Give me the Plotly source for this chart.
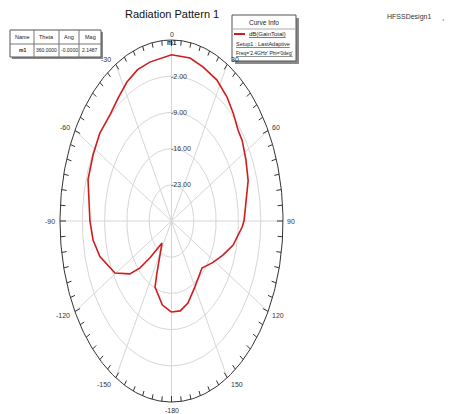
import numpy as np
import plotly.graph_objects as go

# Far-field gain cut, Phi = 0deg, 2.4 GHz (theta in degrees, gain in dB)
theta_deg = [-180, -170, -158, -155.5, -145, -136.5, -132.5, -128, -119.5, -107, -98.5,
             -90, -73, -62.5, -53, -43, -35, -27.5, -20, -12.5, 0, 10.5, 18.5, 27.5,
             36, 43, 50, 55, 63, 72, 85, 90, 93, 103.5, 112, 121.5, 133.5, 150, 162,
             171, 180]
gain_db = [-12.4, -13.5, -16.2, -19.0, -24.8, -20.2, -16.6, -13.4, -9.6, -6.5, -5.1,
           -4.4, -2.6, -2.25, -1.8, -1.8, -0.9, 0.3, 1.14, 1.47, 2.1487, 2.06, 1.39, 0.77,
           -0.36, -1.55, -2.7, -2.9, -3.8, -4.7, -6.8, -7.25, -7.8, -10.1, -12.5, -14.7,
           -16.8, -15.3, -13.3, -12.4, -12.4]

# Radial axis: -30 dB at centre, +5 dB on the rim
r_min, r_max = -30.0, 5.0
ring_values = [-23.0, -16.0, -9.0, -2.0]
ring_labels = ["-23.00", "-16.00", "-9.00", "-2.00"]

# Angular axis labels
ang_ticks = [0, 30, 60, 90, 120, 150, 180, -150, -120, -90, -60, -30]
ang_labels = ["0", "30", "60", "90", "120", "150", "-180", "-150", "-120", "-90", "-60", "-30"]

# Marker table
marker_cols = ["Name", "Theta", "Ang", "Mag"]
marker_row = ["m1", "360.0000", "-0.0000", "2.1487"]
marker_theta, marker_mag = 0.0, 2.1487

W, H = 462, 414
FONT = "Liberation Sans Narrow, Arial Narrow, Liberation Sans, Arial"
span = r_max - r_min

# pixel geometry of the (stretched) polar frame
cx_px, cy_px, rx_px, ry_px = 171.5, 221.0, 111.5, 181.0
x_range = [-cx_px / rx_px * span, (W - cx_px) / rx_px * span]
y_range = [-(H - cy_px) / ry_px * span, cy_px / ry_px * span]


def to_xy(th_deg, val):
    th = np.radians(np.asarray(th_deg, dtype=float))
    rr = np.asarray(val, dtype=float) - r_min
    return rr * np.sin(th), rr * np.cos(th)


def px(x):
    return x / W


def py(y):
    return 1 - y / H


fig = go.Figure()

# concentric rings
full = np.linspace(0, 360, 361)
for rv in ring_values:
    gx, gy = to_xy(full, np.full_like(full, rv))
    fig.add_trace(go.Scatter(x=gx, y=gy, mode="lines",
                             line=dict(color="#d6d6d6", width=1), hoverinfo="skip"))

# spokes every 30 degrees
sx, sy = [], []
for a in range(0, 360, 30):
    ex, ey = to_xy([a], [r_max])
    sx += [0, ex[0], None]
    sy += [0, ey[0], None]
fig.add_trace(go.Scatter(x=sx, y=sy, mode="lines",
                         line=dict(color="#d6d6d6", width=1), hoverinfo="skip"))

# rim
ox, oy = to_xy(full, np.full_like(full, r_max))
fig.add_trace(go.Scatter(x=ox, y=oy, mode="lines",
                         line=dict(color="#333333", width=1), hoverinfo="skip"))

# inward ticks every 5 degrees
tx, ty = [], []
kx, ky = span / rx_px, span / ry_px
for a in range(0, 360, 5):
    ex, ey = to_xy([a], [r_max])
    th = np.radians(a)
    L = 6.0 if a % 30 == 0 else 5.0
    tx += [ex[0], ex[0] - L * np.sin(th) * kx, None]
    ty += [ey[0], ey[0] - L * np.cos(th) * ky, None]
fig.add_trace(go.Scatter(x=tx, y=ty, mode="lines",
                         line=dict(color="#333333", width=1), hoverinfo="skip"))

# gain curve
cx_, cy_ = to_xy(theta_deg, gain_db)
fig.add_trace(go.Scatter(x=cx_, y=cy_, mode="lines",
                         line=dict(color="#d01c1c", width=1.6), hoverinfo="skip"))

annotations = []

# ring labels
for rv, lab in zip(ring_values, ring_labels):
    _, ly = to_xy([0], [rv])
    annotations.append(dict(x=0, y=ly[0], xref="x", yref="y", text=lab, showarrow=False,
                            xanchor="left", yanchor="middle", xshift=-3,
                            font=dict(family=FONT, size=7, color="#333333")))

# angular labels
for a, lab in zip(ang_ticks, ang_labels):
    ex, ey = to_xy([a], [r_max])
    s, c = np.sin(np.radians(a)), np.cos(np.radians(a))
    if abs(s) < 1e-6:
        xa, xs = "center", 0
    elif s > 0:
        xa, xs = "left", 2
    else:
        xa, xs = "right", -3
    ys = 6 * c if c > 0 else 8 * c
    annotations.append(dict(x=ex[0], y=ey[0], xref="x", yref="y", text=lab, showarrow=False,
                            xanchor=xa, yanchor="middle", xshift=xs, yshift=ys,
                            font=dict(family=FONT, size=7, color="#333333")))

# marker m1
mx, my = to_xy([marker_theta], [marker_mag])
annotations.append(dict(x=mx[0], y=my[0], xref="x", yref="y", text="<b>m1</b>",
                        showarrow=False, yshift=12, xanchor="center", yanchor="middle",
                        font=dict(family=FONT, size=6.5, color="#222222")))

shapes = []


def box(x0, y0, x1, y1, shadow=3):
    shapes.append(dict(type="rect", xref="paper", yref="paper",
                       x0=px(x0 + shadow), y0=py(y1 + shadow), x1=px(x1 + shadow), y1=py(y0 + shadow),
                       line=dict(width=0), fillcolor="#8a8a8a", layer="above"))
    shapes.append(dict(type="rect", xref="paper", yref="paper",
                       x0=px(x0), y0=py(y1), x1=px(x1), y1=py(y0),
                       line=dict(color="#555555", width=1), fillcolor="white", layer="above"))


def hline(x0, x1, y, color="#777777", width=1):
    shapes.append(dict(type="line", xref="paper", yref="paper",
                       x0=px(x0), x1=px(x1), y0=py(y), y1=py(y),
                       line=dict(color=color, width=width), layer="above"))


def vline(x, y0, y1):
    shapes.append(dict(type="line", xref="paper", yref="paper",
                       x0=px(x), x1=px(x), y0=py(y0), y1=py(y1),
                       line=dict(color="#777777", width=1), layer="above"))


def text(x, y, s, size=7, anchor="center", color="#222222"):
    annotations.append(dict(x=px(x), y=py(y), xref="paper", yref="paper", text=s,
                            showarrow=False, xanchor=anchor, yanchor="middle",
                            font=dict(family=FONT, size=size, color=color)))


# marker table
box(10, 30, 101, 57, shadow=2)
hline(10, 101, 44)
col_edges = [10, 34, 59, 79, 101]
for xe in col_edges[1:-1]:
    vline(xe, 30, 57)
for i in range(4):
    xm = (col_edges[i] + col_edges[i + 1]) / 2
    text(xm, 37.5, marker_cols[i], size=5.5)
    text(xm, 50.5, ("<b>%s</b>" % marker_row[i]) if i == 0 else marker_row[i], size=5)

# curve info legend
box(232, 15, 296, 61, shadow=3)
text(264, 22.5, "Curve Info", size=6.5)
hline(232, 296, 29, color="#aaaaaa")
hline(234, 245, 34, color="#d01c1c", width=2)
text(247, 34, "<u>dB(GainTotal)</u>", size=6, anchor="left")
text(234, 44, "<u>Setup1 : LastAdaptive</u>", size=5.5, anchor="left")
text(234, 53, "<u>Freq='2.4GHz' Phi='0deg'</u>", size=5, anchor="left")

# title and design name
text(172, 14, "Radiation Pattern 1", size=11, color="#111111")
text(385, 17, "HFSSDesign1", size=7, anchor="left", color="#333333")
text(440, 18, ",", size=8, anchor="left", color="#333333")

fig.update_layout(
    width=W, height=H,
    margin=dict(l=0, r=0, t=0, b=0),
    paper_bgcolor="white", plot_bgcolor="white",
    showlegend=False,
    xaxis=dict(range=x_range, visible=False, fixedrange=True),
    yaxis=dict(range=y_range, visible=False, fixedrange=True),
    annotations=annotations,
    shapes=shapes,
)

fig.write_html("out.html")
